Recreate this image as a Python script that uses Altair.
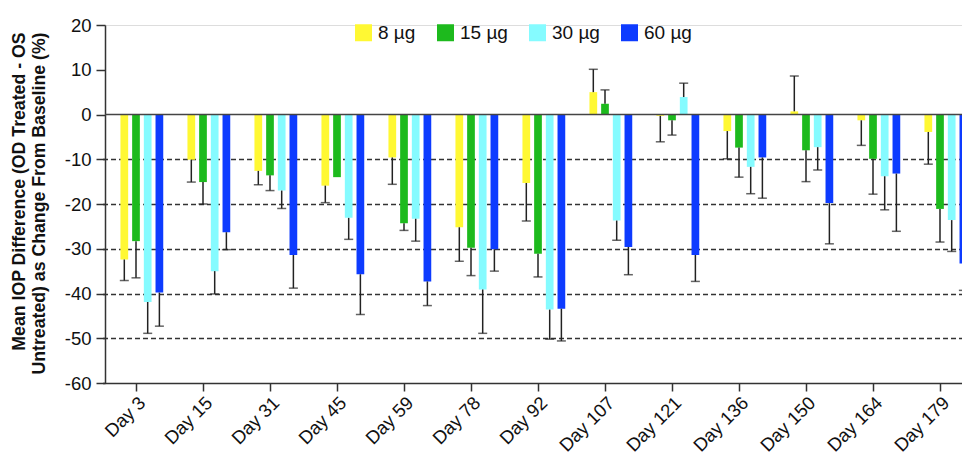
import altair as alt
import pandas as pd

days = ["Day 3", "Day 15", "Day 31", "Day 45", "Day 59", "Day 78", "Day 92",
        "Day 107", "Day 121", "Day 136", "Day 150", "Day 164", "Day 179"]
doses = ["8 µg", "15 µg", "30 µg", "60 µg"]
colors = ["#FFF833", "#1DBA1D", "#85FBFF", "#0D3BFF"]

# bar values (mean % change)
v8 = [-32.4, -10.1, -12.6, -15.9, -9.6, -25.2, -15.3, 5.0, -0.3, -3.7, 0.7, -1.3, -3.9]
v15 = [-28.3, -15.1, -13.6, -14.0, -24.3, -29.8, -31.1, 2.4, -1.3, -7.4, -8.0, -9.9, -21.1]
v30 = [-41.9, -35.0, -17.0, -23.1, -23.3, -39.1, -43.6, -23.7, 3.9, -11.7, -7.3, -13.8, -23.6]
v60 = [-39.8, -26.3, -31.4, -35.7, -37.3, -30.1, -43.4, -29.6, -31.4, -9.6, -19.8, -13.2, -33.3]

# error bar tips (one-sided)
e8 = [-37.1, -15.1, -15.7, -19.7, -15.6, -32.8, -23.8, 10.1, -6.1, -9.9, 8.6, -6.9, -11.1]
e15 = [-36.5, -20.0, -17.0, None, -25.9, -36.0, -36.3, 5.5, -4.6, -14.0, -15.0, -17.8, -28.5]
e30 = [-48.9, -40.1, -21.0, -27.9, -28.3, -48.9, -50.2, -28.1, 7.0, -17.7, -12.4, -21.3, -30.6]
e60 = [-47.3, -30.2, -38.8, -44.7, -42.7, -35.0, -50.6, -35.8, -37.3, -18.7, -28.9, -26.1, -39.3]

y_ticks = [20, 10, 0, -10, -20, -30, -40, -50, -60]

rows = []
for dose, vals, errs in zip(doses, [v8, v15, v30, v60], [e8, e15, e30, e60]):
    for d, v, e in zip(days, vals, errs):
        rows.append({"day": d, "dose": dose, "value": v, "lo": e})
df = pd.DataFrame(rows)
zero_df = pd.DataFrame({"y": [0]})

FONT = "Liberation Sans"

x_enc = alt.X("day:N", sort=days,
              scale=alt.Scale(domain=days, range=[-2.5, 868.5], paddingInner=0, paddingOuter=0),
              axis=alt.Axis(title=None, labelAngle=-45, labelFontSize=18.5, labelFont=FONT,
                            labelColor="#111", tickSize=8, tickColor="#333", tickWidth=1.5,
                            domainColor="#333", domainWidth=1.5, labelPadding=2))
xo_enc = alt.XOffset("dose:N",
                     scale=alt.Scale(domain=["_"] + doses, paddingInner=0.34, paddingOuter=0.535))

y_scale = alt.Scale(domain=[-60, 20], nice=False)
y_axis = alt.Axis(
    values=y_ticks,
    labelExpr="'' + datum.value",
    labelFontSize=18.5, labelFont=FONT, labelColor="#111", labelPadding=5,
    tickSize=9, tickColor="#333", tickWidth=1.5,
    domainColor="#333", domainWidth=1.5,
    grid=True, gridDash=[5, 3], gridColor="#333", gridWidth=1.5,
    gridOpacity={"condition": {"test": "datum.value < 0 && datum.value > -60", "value": 1}, "value": 0},
    title=["Mean IOP Difference (OD Treated - OS", "Untreated) as Change From Baseline (%)"],
    titleFont=FONT, titleFontSize=17.7, titleFontWeight="bold", titleColor="#111",
    titleAngle=-90, titleBaseline="top", titleAlign="right", titleLineHeight=20.5,
    titleLimit=1000, titleX=-95, titleY=7,
)

bars = alt.Chart(df).mark_bar().encode(
    x=x_enc,
    xOffset=xo_enc,
    y=alt.Y("value:Q", scale=y_scale, axis=y_axis),
    y2=alt.datum(0),
    color=alt.Color("dose:N", scale=alt.Scale(domain=doses, range=colors),
                    legend=alt.Legend(title=None, orient="none", legendX=249, legendY=-2,
                                      direction="horizontal", symbolType="square",
                                      symbolSize=289, symbolStrokeWidth=0,
                                      labelFontSize=19, labelFont=FONT, labelColor="#111",
                                      labelOffset=5, columnPadding=20)),
)

zero = alt.Chart(zero_df).mark_rule(color="#444", strokeWidth=1.5).encode(y=alt.Y("y:Q", scale=y_scale))

err = alt.Chart(df).transform_filter("isValid(datum.lo)")
err_rule = err.mark_rule(color="#222", strokeWidth=1.5).encode(
    x=x_enc, xOffset=xo_enc, y=alt.Y("value:Q", scale=y_scale), y2="lo:Q")
err_cap = err.mark_tick(color="#222", thickness=1.5, size=9).encode(
    x=x_enc, xOffset=xo_enc, y=alt.Y("lo:Q", scale=y_scale))

chart = alt.layer(bars, zero, err_rule, err_cap).properties(
    width=857, height=358,
    autosize=alt.AutoSizeParams(type="none"),
    padding={"left": 105, "top": 25, "right": 0, "bottom": 72},
).configure_view(stroke=None).configure(background="white")

chart.save("out.html", embed_options={"renderer": "svg", "actions": False})
